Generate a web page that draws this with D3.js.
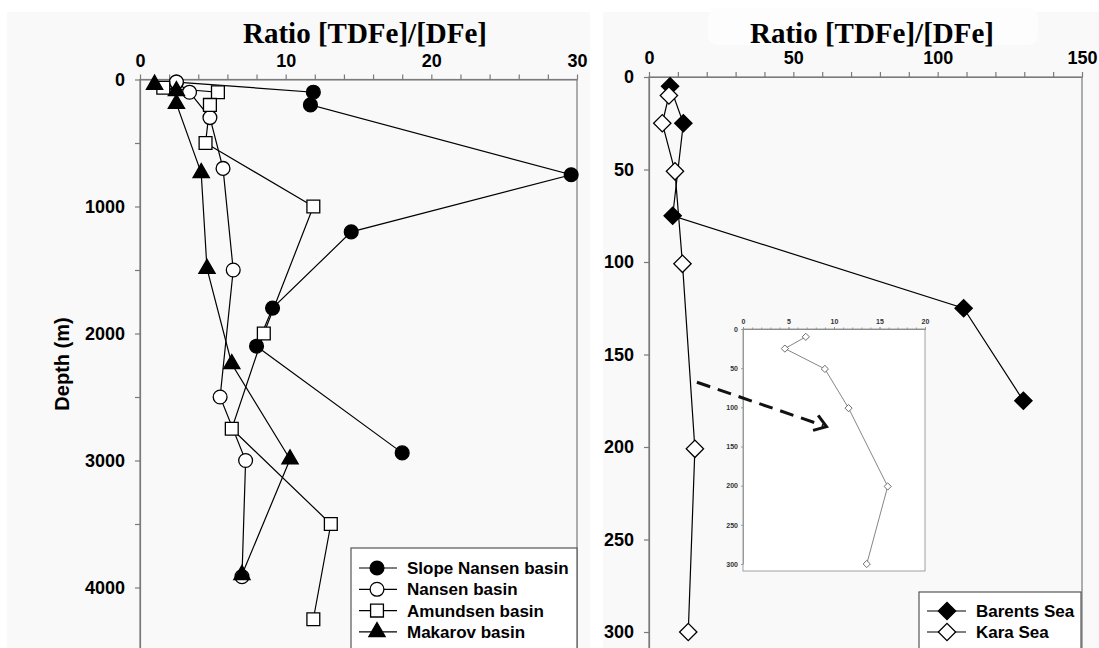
<!DOCTYPE html>
<html>
<head>
<meta charset="utf-8">
<script src="https://cdn.jsdelivr.net/npm/d3@7"></script>
<style>
  body { margin: 0; background: #ffffff; }
  text { font-family: Arial, "Liberation Sans", sans-serif; }
</style>
</head>
<body>
<div id="chart_div"></div>
<script>
// ratio [TDFe]/[DFe] vs depth (m), one [ratio, depth] pair per sample
var slopeNansen = [[2.5, 20], [11.9, 100], [11.7, 200], [29.6, 750], [14.5, 1200], [9.1, 1800], [8.0, 2100], [18.0, 2940]];
var nansen = [[2.5, 20], [3.4, 100], [4.8, 300], [5.7, 700], [6.4, 1500], [5.5, 2500], [7.25, 3000], [7.0, 3915]];
var amundsen = [[1.6, 65], [5.35, 100], [4.8, 200], [4.5, 500], [11.9, 1000], [8.5, 2000], [6.3, 2750], [13.1, 3500], [11.9, 4250]];
var makarov = [[1.0, 40], [2.5, 90], [2.5, 190], [4.2, 735], [4.6, 1490], [6.3, 2240], [10.3, 2990], [7.0, 3900]];

var barents = [[7.3, 5], [11.9, 25], [8.2, 75], [109, 125], [129.7, 175]];
var kara = [[6.9, 10], [4.6, 25], [9.0, 51], [11.6, 101], [15.9, 201], [13.6, 300]];

var leftNames = ['Slope Nansen basin', 'Nansen basin', 'Amundsen basin', 'Makarov basin'];
var rightNames = ['Barents Sea', 'Kara Sea'];

var leftRatioTicks = [0, 10, 20, 30];
var leftDepthTicks = [0, 1000, 2000, 3000, 4000];
var rightRatioTicks = [0, 50, 100, 150];
var rightDepthTicks = [0, 50, 100, 150, 200, 250, 300];
var insetRatioTicks = [0, 5, 10, 15, 20];
var insetDepthTicks = [0, 50, 100, 150, 200, 250, 300];

var titleText = 'Ratio [TDFe]/[DFe]';
var depthLabel = 'Depth (m)';

// dashed arrow pointing to the inset, in right panel data units
var arrowFrom = [16.6, 165];
var arrowTo = [61.5, 189];

function draw_chart() {
    var width = 1099, height = 648;
    var axis_color = '#7a7a7a';
    var fmt = d3.format('d');

    var svg = d3.select('#chart_div')
        .append('svg')
        .attr('width', width)
        .attr('height', height);

    // faint grey page of the scanned figure
    svg.append('rect').attr('x', 7).attr('y', 12).attr('width', 583).attr('height', height - 12).attr('fill', '#f9f9f9');
    svg.append('rect').attr('x', 603).attr('y', 12).attr('width', width - 603).attr('height', height - 12).attr('fill', '#f9f9f9');
    svg.append('rect').attr('x', 708).attr('y', 8).attr('width', 330).attr('height', 37).attr('rx', 10).attr('fill', '#fdfdfd');

    var x_left = d3.scaleLinear().domain([0, 30]).range([140, 577]);
    var y_left = d3.scaleLinear().domain([0, 4500]).range([79.5, 651]);
    var x_right = d3.scaleLinear().domain([0, 150]).range([649, 1082]);
    var y_right = d3.scaleLinear().domain([0, 310]).range([77, 650.5]);

    var shapes = {
        circle: d3.symbol().type(d3.symbolCircle).size(150),
        square: d3.symbol().type(d3.symbolSquare).size(165),
        triangle: d3.symbol().type(d3.symbolTriangle).size(115),
        diamond: d3.symbol().type(d3.symbolSquare).size(150)
    };

    function style_axis(a, color, width, size, text_color) {
        a.select('.domain').attr('stroke', color).attr('stroke-width', width);
        a.selectAll('line').attr('stroke', color).attr('stroke-width', width);
        a.selectAll('text')
            .attr('fill', text_color)
            .style('font-family', 'Arial, "Liberation Sans", sans-serif')
            .style('font-weight', 700)
            .style('font-size', size + 'px');
    }

    function panel(xs, ys, xticks, yticks, xminor, yminor, font_size) {
        var g = svg.append('g');

        g.append('rect')
            .attr('x', xs.range()[0])
            .attr('y', ys.range()[0])
            .attr('width', xs.range()[1] - xs.range()[0])
            .attr('height', ys.range()[1] - ys.range()[0])
            .attr('fill', 'none')
            .attr('stroke', axis_color)
            .attr('stroke-width', 1.2);

        var top_axis = g.append('g')
            .attr('transform', `translate(0, ${ys.range()[0]})`)
            .call(d3.axisTop(xs).tickValues(xticks).tickFormat(fmt).tickSize(5).tickPadding(8).tickSizeOuter(0));

        var left_axis = g.append('g')
            .attr('transform', `translate(${xs.range()[0]}, 0)`)
            .call(d3.axisLeft(ys).tickValues(yticks).tickFormat(fmt).tickSize(5).tickPadding(10).tickSizeOuter(0));

        style_axis(top_axis, axis_color, 1.2, font_size, '#000');
        style_axis(left_axis, axis_color, 1.2, font_size, '#000');

        if (xminor.length) {
            g.append('g')
                .attr('transform', `translate(0, ${ys.range()[0]})`)
                .call(d3.axisTop(xs).tickValues(xminor).tickSize(5).tickFormat(''))
                .call(a => a.select('.domain').remove())
                .selectAll('line').attr('stroke', axis_color).attr('stroke-width', 1.2);
        }
        if (yminor.length) {
            g.append('g')
                .attr('transform', `translate(${xs.range()[0]}, 0)`)
                .call(d3.axisLeft(ys).tickValues(yminor).tickSize(5).tickFormat(''))
                .call(a => a.select('.domain').remove())
                .selectAll('line').attr('stroke', axis_color).attr('stroke-width', 1.2);
        }
        return g;
    }

    function series(g, xs, ys, data) {
        var line = d3.line().x(d => xs(d[0])).y(d => ys(d[1]));
        g.append('path')
            .attr('d', line(data))
            .attr('fill', 'none')
            .attr('stroke', '#000')
            .attr('stroke-width', 1.2);
    }

    function markers(g, xs, ys, data, shape, fill, rotate) {
        g.selectAll(null)
            .data(data)
            .enter()
            .append('path')
            .attr('d', shapes[shape]())
            .attr('transform', d => `translate(${xs(d[0])}, ${ys(d[1])}) rotate(${rotate || 0})`)
            .attr('fill', fill)
            .attr('stroke', '#000')
            .attr('stroke-width', 1.3);
    }

    function title(x) {
        svg.append('text')
            .attr('x', x)
            .attr('y', 43)
            .style('text-anchor', 'middle')
            .style('font-family', '"Liberation Serif", "Times New Roman", serif')
            .style('font-weight', 700)
            .style('font-size', '29px')
            .text(titleText);
    }

    // ---------- left panel ----------
    var left_minor_x = d3.range(2, 30, 2).filter(v => v % 10 !== 0);
    var left_minor_y = d3.range(500, 4500, 1000);
    var gl = panel(x_left, y_left, leftRatioTicks, leftDepthTicks, left_minor_x, left_minor_y, 18);

    var left_series = [
        { data: slopeNansen, shape: 'circle', fill: '#000' },
        { data: nansen, shape: 'circle', fill: '#fff' },
        { data: amundsen, shape: 'square', fill: '#fff' },
        { data: makarov, shape: 'triangle', fill: '#000' }
    ];
    left_series.forEach(s => series(gl, x_left, y_left, s.data));
    left_series.forEach(s => markers(gl, x_left, y_left, s.data, s.shape, s.fill, 0));

    title(365);

    svg.append('text')
        .attr('transform', 'translate(69, 364) rotate(-90)')
        .style('text-anchor', 'middle')
        .style('font-weight', 700)
        .style('font-size', '20px')
        .text(depthLabel);

    // legend
    var leg_l = svg.append('g');
    leg_l.append('rect')
        .attr('x', 351).attr('y', 548).attr('width', 226).attr('height', 110)
        .attr('fill', '#fff').attr('stroke', '#555').attr('stroke-width', 1.2);
    left_series.forEach(function(s, i) {
        var yy = 568 + i * 21.3;
        leg_l.append('line').attr('x1', 359).attr('x2', 397).attr('y1', yy).attr('y2', yy)
            .attr('stroke', '#000').attr('stroke-width', 1.2);
        leg_l.append('path')
            .attr('d', shapes[s.shape]())
            .attr('transform', `translate(377, ${yy})`)
            .attr('fill', s.fill).attr('stroke', '#000').attr('stroke-width', 1.3);
        leg_l.append('text')
            .attr('x', 407).attr('y', yy + 6)
            .style('font-weight', 700).style('font-size', '17px')
            .text(leftNames[i]);
    });

    // ---------- right panel ----------
    var right_minor_x = d3.range(10, 150, 10).filter(v => v % 50 !== 0);
    var gr = panel(x_right, y_right, rightRatioTicks, rightDepthTicks, right_minor_x, [], 18);

    var right_series = [
        { data: barents, shape: 'diamond', fill: '#000' },
        { data: kara, shape: 'diamond', fill: '#fff' }
    ];
    right_series.forEach(s => series(gr, x_right, y_right, s.data));
    right_series.forEach(s => markers(gr, x_right, y_right, s.data, s.shape, s.fill, 45));

    title(872);

    var leg_r = svg.append('g');
    leg_r.append('rect')
        .attr('x', 919).attr('y', 592).attr('width', 162).attr('height', 70)
        .attr('fill', '#fff').attr('stroke', '#555').attr('stroke-width', 1.2);
    right_series.forEach(function(s, i) {
        var yy = 611 + i * 21;
        leg_r.append('line').attr('x1', 927).attr('x2', 966).attr('y1', yy).attr('y2', yy)
            .attr('stroke', '#000').attr('stroke-width', 1.2);
        leg_r.append('path')
            .attr('d', shapes[s.shape]())
            .attr('transform', `translate(947, ${yy}) rotate(45)`)
            .attr('fill', s.fill).attr('stroke', '#000').attr('stroke-width', 1.3);
        leg_r.append('text')
            .attr('x', 976).attr('y', yy + 6)
            .style('font-weight', 700).style('font-size', '17px')
            .text(rightNames[i]);
    });

    // ---------- inset (Kara Sea, zoomed) ----------
    var x_in = d3.scaleLinear().domain([0, 20]).range([743, 925]);
    var y_in = d3.scaleLinear().domain([0, 300]).range([329, 564]);
    var gi = svg.append('g');
    var in_color = '#8a8a8a';

    gi.append('rect')
        .attr('x', 743).attr('y', 329).attr('width', 182).attr('height', 242)
        .attr('fill', '#fff').attr('stroke', in_color).attr('stroke-width', 0.8);

    var in_top = gi.append('g')
        .attr('transform', 'translate(0, 329)')
        .call(d3.axisTop(x_in).tickValues(insetRatioTicks).tickFormat(fmt).tickSize(2).tickPadding(3).tickSizeOuter(0));
    var in_minor = gi.append('g')
        .attr('transform', 'translate(0, 329)')
        .call(d3.axisTop(x_in).tickValues(d3.range(1, 20, 1)).tickSize(1.5).tickFormat(''));
    var in_left = gi.append('g')
        .attr('transform', 'translate(743, 0)')
        .call(d3.axisLeft(y_in).tickValues(insetDepthTicks).tickFormat(fmt).tickSize(2).tickPadding(3).tickSizeOuter(0));
    [in_top, in_minor, in_left].forEach(a => style_axis(a, in_color, 0.8, 7, '#333'));

    gi.append('path')
        .attr('d', d3.line().x(d => x_in(d[0])).y(d => y_in(d[1]))(kara))
        .attr('fill', 'none')
        .attr('stroke', '#777')
        .attr('stroke-width', 0.9);
    gi.selectAll(null)
        .data(kara)
        .enter()
        .append('path')
        .attr('d', d3.symbol().type(d3.symbolSquare).size(26)())
        .attr('transform', d => `translate(${x_in(d[0])}, ${y_in(d[1])}) rotate(45)`)
        .attr('fill', '#fff')
        .attr('stroke', '#555')
        .attr('stroke-width', 0.8);

    // dashed arrow
    var ax0 = x_right(arrowFrom[0]), ay0 = y_right(arrowFrom[1]);
    var ax1 = x_right(arrowTo[0]), ay1 = y_right(arrowTo[1]);
    svg.append('line')
        .attr('x1', ax0).attr('y1', ay0).attr('x2', ax1 - 3).attr('y2', ay1 - 1)
        .attr('stroke', '#111').attr('stroke-width', 3)
        .attr('stroke-dasharray', '14 8');
    var ang = Math.atan2(ay1 - ay0, ax1 - ax0);
    var head = 14, spread = 0.6;
    var p1 = [ax1 - head * Math.cos(ang - spread), ay1 - head * Math.sin(ang - spread)];
    var p2 = [ax1 - head * Math.cos(ang + spread), ay1 - head * Math.sin(ang + spread)];
    svg.append('path')
        .attr('d', `M${p1[0]},${p1[1]} L${ax1},${ay1} L${p2[0]},${p2[1]}`)
        .attr('fill', 'none')
        .attr('stroke', '#111')
        .attr('stroke-width', 3);
}

document.addEventListener('DOMContentLoaded', draw_chart);
</script>
</body>
</html>
